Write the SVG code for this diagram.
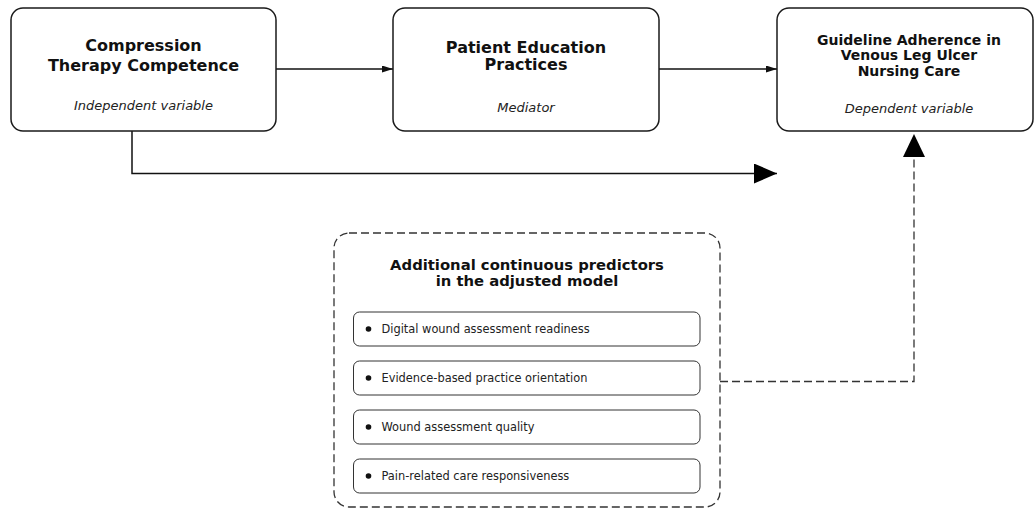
<svg xmlns="http://www.w3.org/2000/svg" width="1035" height="510" viewBox="0 0 1035 510">
<style>
  text { font-family: "DejaVu Sans", "Liberation Sans", sans-serif; fill: #111; }
  .node { fill: #fff; stroke: #1a1a1a; stroke-width: 1.5; }
  .title { font-weight: bold; font-size: 16px; text-anchor: middle; }
  .title14 { font-weight: bold; font-size: 14px; text-anchor: middle; }
  .role { font-style: italic; font-size: 13px; text-anchor: middle; fill: #222; }
  .group { fill: #fff; stroke: #333; stroke-width: 1.3; stroke-dasharray: 8 4; }
  .gtitle { font-weight: bold; font-size: 14.8px; text-anchor: middle; }
  .item { fill: #fff; stroke: #333; stroke-width: 1; }
  .itext { font-size: 11.4px; fill: #222; }
  .bullet { fill: #111; }
  .conn { fill: none; stroke: #111; stroke-width: 1.5; }
  .dash { fill: none; stroke: #333; stroke-width: 1.3; stroke-dasharray: 8 4; }
</style>
<defs>
  <marker id="small" viewBox="0 0 11 7" refX="11" refY="3.5" markerWidth="11" markerHeight="7" markerUnits="userSpaceOnUse" orient="auto">
    <path d="M0,0 L11,3.5 L0,7 Z" fill="#111"/>
  </marker>
  <marker id="big" viewBox="0 0 23 20" refX="23" refY="10" markerWidth="23" markerHeight="20" markerUnits="userSpaceOnUse" orient="auto">
    <path d="M0,0 L23,10 L0,20 Z" fill="#000"/>
  </marker>
</defs>

<g id="connectors">
  <line class="conn" x1="276" y1="69" x2="393" y2="69" marker-end="url(#small)"/>
  <line class="conn" x1="659" y1="69" x2="777" y2="69" marker-end="url(#small)"/>
  <polyline class="conn" points="132,131 132,173.5 777,173.5" marker-end="url(#big)"/>
  <polyline class="dash" points="720,381.5 914,381.5 914,157"/>
  <path d="M914,134 L925,157 L903,157 Z" fill="#000"/>
</g>

<g id="node-competence">
  <rect class="node" x="11" y="8" width="265" height="123" rx="12"/>
  <text class="title" x="143.5" y="51">Compression</text>
  <text class="title" x="143.5" y="70.5">Therapy Competence</text>
  <text class="role" x="143.5" y="110">Independent variable</text>
</g>

<g id="node-education">
  <rect class="node" x="393" y="8" width="266" height="123" rx="12"/>
  <text class="title" x="526" y="52.5">Patient Education</text>
  <text class="title" x="526" y="70">Practices</text>
  <text class="role" x="526" y="111.5">Mediator</text>
</g>

<g id="node-adherence">
  <rect class="node" x="777" y="8" width="256" height="123" rx="12"/>
  <text class="title14" x="909" y="45">Guideline Adherence in</text>
  <text class="title14" x="909" y="60">Venous Leg Ulcer</text>
  <text class="title14" x="909" y="76">Nursing Care</text>
  <text class="role" x="909" y="113">Dependent variable</text>
</g>

<g id="node-predictors">
  <rect class="group" x="334" y="233" width="386" height="274" rx="15"/>
  <text class="gtitle" x="527" y="269.5">Additional continuous predictors</text>
  <text class="gtitle" x="527" y="286">in the adjusted model</text>

  <g id="item-digital">
    <rect class="item" x="353.5" y="312" width="346.5" height="34" rx="6"/>
    <circle class="bullet" cx="368.5" cy="329" r="2.8"/>
    <text class="itext" x="381.5" y="333">Digital wound assessment readiness</text>
  </g>
  <g id="item-ebp">
    <rect class="item" x="353.5" y="361" width="346.5" height="34" rx="6"/>
    <circle class="bullet" cx="368.5" cy="378" r="2.8"/>
    <text class="itext" x="381.5" y="382">Evidence-based practice orientation</text>
  </g>
  <g id="item-quality">
    <rect class="item" x="353.5" y="410" width="346.5" height="34" rx="6"/>
    <circle class="bullet" cx="368.5" cy="427" r="2.8"/>
    <text class="itext" x="381.5" y="431">Wound assessment quality</text>
  </g>
  <g id="item-pain">
    <rect class="item" x="353.5" y="459" width="346.5" height="34" rx="6"/>
    <circle class="bullet" cx="368.5" cy="476" r="2.8"/>
    <text class="itext" x="381.5" y="480">Pain-related care responsiveness</text>
  </g>
</g>
</svg>
